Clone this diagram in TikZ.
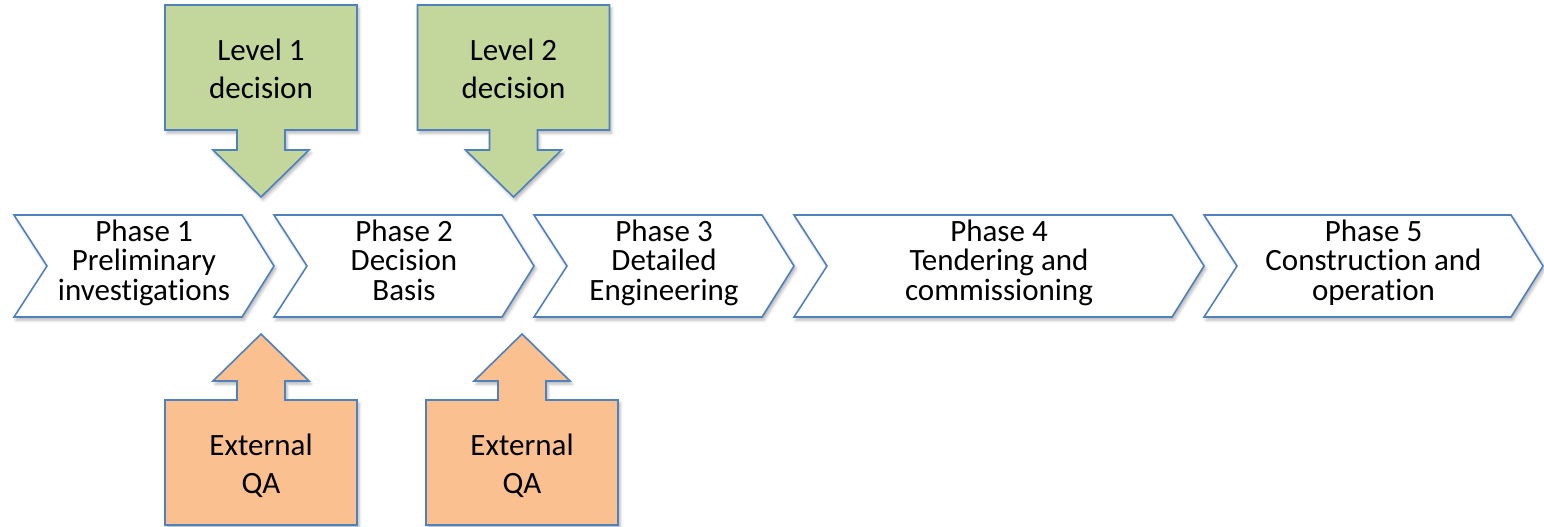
\documentclass[tikz,border=0pt]{standalone}
\usepackage{fontspec}
\setmainfont{Carlito}[Ligatures=NoCommon]
\usetikzlibrary{shadows.blur}

\definecolor{edgeblue}{RGB}{79,129,189}
\definecolor{decgreen}{RGB}{195,214,155}
\definecolor{qaorange}{RGB}{250,192,144}

\begin{document}
\begin{tikzpicture}[x=1pt,y=-1pt,
  outline/.style={draw=edgeblue, line width=1.6pt, line join=miter},
  softshadow/.style={blur shadow={shadow xshift=2pt, shadow yshift=-3pt,
      shadow blur radius=3pt, shadow opacity=30}},
  % multi-line nodes sit on the baseline of their last line
  phasetext/.style={align=center, anchor=base, inner sep=0pt,
      font=\fontsize{31}{29.5}\selectfont},
  boxtext/.style={align=center, anchor=base, inner sep=0pt,
      font=\fontsize{31}{38}\selectfont},
]
\useasboundingbox (0,0) rectangle (1544,527);

% phase chevrons: left edge / tip / name / label
\foreach \l/\r/\n/\t in {
    14/274/phaseA/{Phase 1\\Preliminary\\investigations},
    274/534/phaseB/{Phase 2\\Decision\\Basis},
    534/794/phaseC/{Phase 3\\Detailed\\Engineering},
    794/1204/phaseD/{Phase 4\\Tendering and\\commissioning},
    1204/1543/phaseE/{Phase 5\\Construction and\\operation}}{
  \path[outline, fill=white, softshadow]
    (\l,215) -- ({\r-32},215) -- (\r,266) -- ({\r-32},317)
    -- (\l,317) -- ({\l+33},266) -- cycle;
  \node[phasetext] (\n) at ({(\l+\r)/2},300) {\t};
}

% decision arrows pointing down onto the phase boundaries
\foreach \c/\n/\t in {261/levelA/{Level 1\\decision}, 513.5/levelB/{Level 2\\decision}}{
  \path[outline, fill=decgreen, softshadow]
    ({\c-96},5) -- ({\c+96},5) -- ({\c+96},130) -- ({\c+24},130)
    -- ({\c+24},150) -- ({\c+48},150) -- (\c,197) -- ({\c-48},150)
    -- ({\c-24},150) -- ({\c-24},130) -- ({\c-96},130) -- cycle;
  \node[boxtext] (\n) at (\c,98) {\t};
}

% quality assurance arrows pointing up from below
\foreach \c/\n in {261/qaA, 522/qaB}{
  \path[outline, fill=qaorange, softshadow]
    ({\c-96},525) -- ({\c+96},525) -- ({\c+96},400) -- ({\c+24},400)
    -- ({\c+24},381) -- ({\c+48},381) -- (\c,334) -- ({\c-48},381)
    -- ({\c-24},381) -- ({\c-24},400) -- ({\c-96},400) -- cycle;
  \node[boxtext] (\n) at (\c,493) {External\\QA};
}
\end{tikzpicture}
\end{document}
